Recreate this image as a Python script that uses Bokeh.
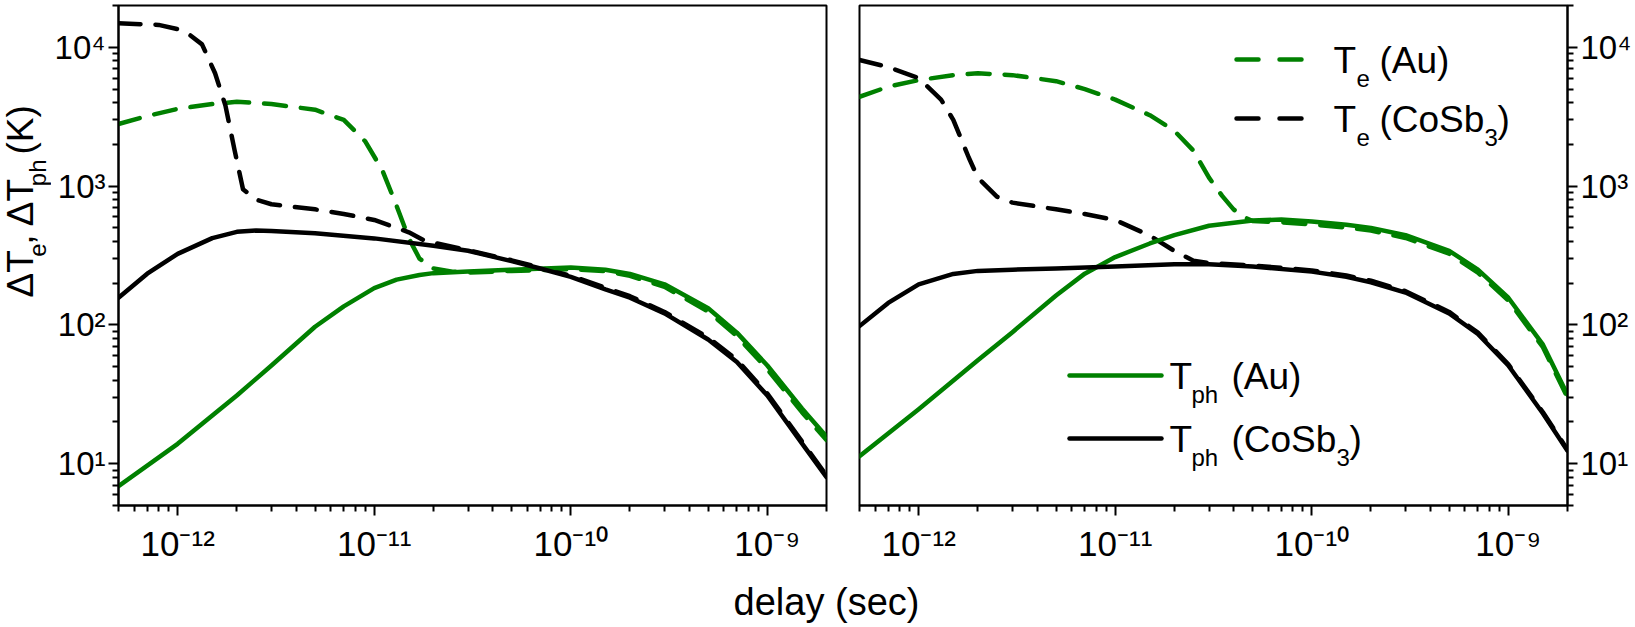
import math
from bokeh.plotting import figure
from bokeh.models import FixedTicker, Arrow, CustomJSTickFormatter
from bokeh.core.properties import value
from bokeh.layouts import row, column
from bokeh.embed import file_html
from bokeh.resources import INLINE

GREEN = "#008000"
FONT = "Liberation Sans"

# ---------------- data (delay in s, temperature rise in K) ----------------
# left panel
t_a_te_au = [5e-13, 7e-13, 1e-12, 1.5e-12, 2e-12, 3e-12, 5e-12, 7e-12, 9e-12, 1.1e-11, 1.3e-11,
             1.5e-11, 1.7e-11, 2e-11, 2.5e-11, 3e-11, 5e-11, 1e-10, 1.5e-10, 2e-10, 3e-10, 5e-10,
             7e-10, 1e-9, 1.5e-9, 2e-9]
te_au_a = [2800, 3200, 3600, 3900, 4050, 3900, 3550, 3000, 2100, 1300, 720,
           420, 300, 255, 242, 238, 245, 252, 244, 226, 188, 125,
           83, 48, 23.5, 14.8]

t_a_te_co = [5e-13, 8e-13, 1e-12, 1.15e-12, 1.33e-12, 1.55e-12, 1.75e-12, 1.95e-12, 2.15e-12,
             2.5e-12, 3e-12, 5e-12, 7e-12, 1e-11, 1.5e-11, 1.8e-11, 3e-11, 5e-11, 1e-10, 2e-10,
             3e-10, 5e-10, 7e-10, 1e-9, 1.5e-9, 2e-9]
te_co_a = [14900, 14500, 13500, 12300, 10500, 6500, 3800, 1800, 950,
           800, 740, 680, 630, 570, 465, 405, 345, 292, 226, 161,
           124, 81, 56, 32, 14.5, 8.2]

t_a_tph_au = [5e-13, 1e-12, 2e-12, 3e-12, 5e-12, 7e-12, 1e-11, 1.3e-11, 1.7e-11, 2e-11, 3e-11,
              5e-11, 1e-10, 1.5e-10, 2e-10, 3e-10, 5e-10, 7e-10, 1e-9, 1.5e-9, 2e-9]
tph_au_a = [6.9, 13.9, 31, 51, 97, 136, 184, 212, 229, 236, 243,
            250, 259, 250, 233, 196, 132, 88, 51, 25, 15.7]

t_a_tph_co = [5e-13, 7e-13, 1e-12, 1.5e-12, 2e-12, 2.5e-12, 3e-12, 5e-12, 1e-11, 2e-11, 3e-11,
              5e-11, 7e-11, 1e-10, 1.5e-10, 2e-10, 3e-10, 5e-10, 7e-10, 1e-9, 1.5e-9, 2e-9]
tph_co_a = [157, 234, 325, 422, 468, 478, 475, 458, 420, 372, 342,
            288, 255, 222, 180, 157, 121, 78.5, 54, 31, 14, 8.0]

# right panel
t_b_te_au = [5e-13, 7e-13, 1e-12, 1.5e-12, 2e-12, 3e-12, 5e-12, 7e-12, 1e-11, 1.5e-11, 2e-11,
             2.5e-11, 3e-11, 3.5e-11, 4e-11, 4.5e-11, 5e-11, 7e-11, 1e-10, 1.5e-10, 2e-10, 3e-10,
             5e-10, 7e-10, 1e-9, 1.5e-9, 2e-9]
te_au_b = [4400, 5200, 5800, 6300, 6500, 6300, 5700, 5000, 4200, 3240, 2500,
           1800, 1150, 850, 680, 600, 560, 548, 530, 503, 478, 423,
           326, 238, 150, 69, 30]

t_b_te_co = [5e-13, 7e-13, 1e-12, 1.3e-12, 1.5e-12, 1.8e-12, 2e-12, 2.5e-12, 3e-12, 5e-12,
             7e-12, 1e-11, 1.5e-11, 2e-11, 2.5e-11, 3e-11, 5e-11, 1e-10, 1.5e-10, 2e-10,
             3e-10, 5e-10, 7e-10, 1e-9, 1.5e-9, 2e-9]
te_co_b = [8100, 7200, 6000, 4200, 3000, 1600, 1150, 840, 760, 680,
           630, 570, 440, 341, 290, 279, 268, 247, 227, 208,
           175, 124, 88, 52, 23.5, 12.6]

t_b_tph_au = [5e-13, 1e-12, 2e-12, 3e-12, 5e-12, 7e-12, 1e-11, 1.5e-11, 2e-11, 3e-11, 5e-11,
              7e-11, 1e-10, 1.5e-10, 2e-10, 3e-10, 5e-10, 7e-10, 1e-9, 1.5e-9, 2e-9]
tph_au_b = [11.3, 24.7, 55.6, 88.7, 163, 234, 308, 386, 443, 518, 565,
            574, 555, 527, 500, 443, 342, 250, 157, 72, 31.4]

t_b_tph_co = [5e-13, 7e-13, 1e-12, 1.5e-12, 2e-12, 3e-12, 5e-12, 1e-11, 2e-11, 3e-11, 5e-11,
              1e-10, 1.5e-10, 2e-10, 3e-10, 5e-10, 7e-10, 1e-9, 1.5e-9, 2e-9]
tph_co_b = [98, 144, 196, 233, 245, 250, 255, 263, 273, 273, 263,
            242, 222, 203, 171, 121, 86, 51, 23, 12.4]

# axes
x_limits = (5e-13, 2e-9)
y_limits = (5, 2e4)
x_major = [1e-12, 1e-11, 1e-10, 1e-9]
y_major = [10, 100, 1000, 10000]
minor_mult = [2, 3, 4, 5, 6, 7, 8, 9]
x_minor = [m * 10.0 ** e for e in range(-13, -8) for m in minor_mult
           if x_limits[0] * 0.999 <= m * 10.0 ** e <= x_limits[1] * 1.001]
y_minor = [m * 10.0 ** e for e in range(0, 5) for m in minor_mult
           if y_limits[0] * 0.999 <= m * 10.0 ** e <= y_limits[1] * 1.001]

x_title = "delay (sec)"
y_title_parts = ["\u0394T", "e", ", \u0394T", "ph", "(K)"]
legend_parts = ["T", "e", "(Au)", "(CoSb", "3", ")", "ph"]

SUP_CODE = """
const sup = {"-": "\u207b", "0": "\u2070", "1": "\u00b9", "2": "\u00b2", "3": "\u00b3",
             "4": "\u2074", "5": "\u2075", "6": "\u2076", "7": "\u2077", "8": "\u2078",
             "9": "\u2079"};
const e = Math.round(Math.log10(tick));
return "10" + String(e).split("").map((c) => sup[c]).join("");
"""

FRAME_W, FRAME_H = 708, 500
TOP, BOTTOM = 5, 72
TITLE_W = 51
FIG_H = TOP + FRAME_H + BOTTOM
FRAME_BOTTOM = TOP + FRAME_H           # page y of the frames' bottom edge
P2_FRAME_LEFT = 858                    # page x of the right frame's left edge
MID = 0.36                             # baseline -> text middle, fraction of font size


def make_fig(side, border_left, border_right):
    p = figure(x_axis_type="log", y_axis_type="log", x_range=x_limits, y_range=y_limits,
               frame_width=FRAME_W, frame_height=FRAME_H, output_backend="svg",
               toolbar_location=None, y_axis_location=side,
               min_border_left=border_left, min_border_right=border_right,
               min_border_top=TOP, min_border_bottom=BOTTOM)
    p.grid.visible = False
    p.outline_line_color = "black"
    p.outline_line_width = 2
    p.outline_line_alpha = 1
    p.background_fill_color = "white"
    p.border_fill_color = "white"
    p.xaxis.ticker = FixedTicker(ticks=x_major, minor_ticks=x_minor)
    p.yaxis.ticker = FixedTicker(ticks=y_major, minor_ticks=y_minor)
    for ax in p.axis:
        ax.formatter = CustomJSTickFormatter(code=SUP_CODE)
        ax.axis_line_width = 2
        ax.axis_line_color = "black"
        ax.major_tick_line_width = 2
        ax.minor_tick_line_width = 2
        ax.major_tick_line_color = "black"
        ax.minor_tick_line_color = "black"
        ax.major_tick_out = 10
        ax.major_tick_in = 0
        ax.minor_tick_out = 6
        ax.minor_tick_in = 0
        ax.major_label_text_font = FONT
        ax.major_label_text_color = "black"
    p.xaxis.major_label_text_font_size = "35px"
    p.yaxis.major_label_text_font_size = "33px"
    p.xaxis.major_label_standoff = 8
    p.yaxis.major_label_standoff = 3
    return p


def draw(p, t_te_au, te_au, t_te_co, te_co, t_ph_au, ph_au, t_ph_co, ph_co):
    dash = dict(line_width=4.5, line_dash="22 15", line_cap="round", line_join="round")
    solid = dict(line_width=4.5, line_cap="round", line_join="round")
    p.line(t_te_au, te_au, line_color=GREEN, **dash)
    p.line(t_te_co, te_co, line_color="black", **dash)
    p.line(t_ph_au, ph_au, line_color=GREEN, **solid)
    p.line(t_ph_co, ph_co, line_color="black", **solid)


def blank_fig(w, h):
    f = figure(width=w, height=h, x_range=(0, w), y_range=(0, h), output_backend="svg",
               toolbar_location=None, x_axis_location=None, y_axis_location=None,
               min_border=0)
    f.grid.visible = False
    f.outline_line_color = None
    f.background_fill_color = "white"
    f.border_fill_color = "white"
    return f


def legend_text(p, page_x, page_baseline, text, size):
    # anchored at the frame's bottom-left corner, offset in pixels
    p.text(x=[x_limits[0]], y=[y_limits[0]], text=[text],
           x_offset=page_x - P2_FRAME_LEFT,
           y_offset=page_baseline - FRAME_BOTTOM - MID * size,
           text_font=value(FONT), text_font_size=value(f"{size}px"), text_color="black",
           text_align="left", text_baseline="middle")


def sample(p, page_x0, page_x1, page_y, color, dashed):
    kw = dict(line_dash="22 21") if dashed else {}
    p.add_layout(Arrow(x_start=page_x0 - P2_FRAME_LEFT, y_start=FRAME_BOTTOM - page_y,
                       x_end=page_x1 - P2_FRAME_LEFT, y_end=FRAME_BOTTOM - page_y,
                       start_units="screen", end_units="screen", start=None, end=None,
                       line_color=color, line_width=4.5, line_cap="round", **kw))


# ---- panels ----
p1 = make_fig("left", 117 - TITLE_W, 10)
draw(p1, t_a_te_au, te_au_a, t_a_te_co, te_co_a, t_a_tph_au, tph_au_a, t_a_tph_co, tph_co_a)

p2 = make_fig("right", 23, 61)
draw(p2, t_b_te_au, te_au_b, t_b_te_co, te_co_b, t_b_tph_au, tph_au_b, t_b_tph_co, tph_co_b)

# ---- legend inside the right panel (page coordinates of each piece) ----
T, E, AU, CO, THREE, CLOSE, PH = legend_parts
sample(p2, 1235, 1303, 59, GREEN, True)
sample(p2, 1235, 1303, 118, "black", True)
sample(p2, 1068, 1160, 375, GREEN, False)
sample(p2, 1068, 1160, 438, "black", False)
for px, py, s in [(1332, 73, T), (1378, 73, AU),
                  (1332, 132, T), (1378, 132, CO), (1496, 132, CLOSE),
                  (1168, 389, T), (1230, 389, AU),
                  (1168, 452, T), (1230, 452, CO), (1348, 452, CLOSE)]:
    legend_text(p2, px, py, s, 37)
for px, py, s in [(1355, 87, E), (1355, 146, E), (1483, 146, THREE),
                  (1190, 403, PH), (1190, 466, PH), (1335, 466, THREE)]:
    legend_text(p2, px, py, s, 24)

# ---- y title (rotated, with subscripts) ----
yt = blank_fig(TITLE_W, FIG_H)
rot = math.pi / 2
yt.text(x=[33 - MID * 37] * 3, y=[FIG_H - 337, FIG_H - 276, FIG_H - 172],
        text=[y_title_parts[0], y_title_parts[2], y_title_parts[4]],
        angle=rot, text_font=value(FONT), text_font_size=value("37px"), text_color="black",
        text_align="left", text_baseline="middle")
yt.text(x=[46 - MID * 24] * 2, y=[FIG_H - 290, FIG_H - 208.5],
        text=[y_title_parts[1], y_title_parts[3]],
        angle=rot, text_font=value(FONT), text_font_size=value("24px"), text_color="black",
        text_align="left", text_baseline="middle")

# ---- x title ----
TOTAL_W = 1630
XT_H = 627 - FIG_H
xt = blank_fig(TOTAL_W, XT_H)
xt.text(x=[826], y=[627 - 615 + MID * 38], text=[x_title], text_font=value(FONT),
        text_font_size=value("38px"), text_color="black", text_align="center",
        text_baseline="middle")

layout = column(row(yt, p1, p2), xt)

open("out.html", "w", encoding="utf-8").write(file_html(layout, INLINE))
